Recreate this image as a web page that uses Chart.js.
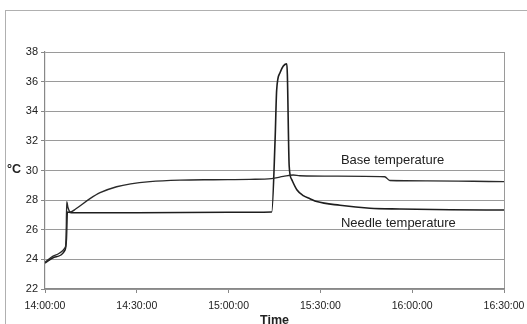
<!DOCTYPE html>
<html>
<head>
<meta charset="utf-8">
<script src="https://cdn.jsdelivr.net/npm/chart.js@4"></script>
<style>
  body { margin: 0; background: #fff; }
  .frame { position: absolute; left: 5px; top: 10px; width: 540px; height: 330px;
           border-left: 1.5px solid #b0b0b0; border-top: 1.5px solid #b0b0b0; }
  canvas { position: absolute; left: 0; top: 0; }
</style>
</head>
<body>
<div class="frame"></div>
<canvas id="chart" width="527" height="324"></canvas>
<script>
// minutes after 14:00:00
const timeLabels = ['14:00:00', '14:30:00', '15:00:00', '15:30:00', '16:00:00', '16:30:00'];

const baseTimes = [0, 3, 6.6, 6.9, 7.1, 7.5, 8.3, 10, 14.7, 18, 23.4, 28, 34.3, 44.1, 55, 67, 74, 77.9, 81.1, 83.3, 95, 111, 112.7, 125, 140, 150];
const baseTemps = [23.8, 24.25, 24.8, 25.3, 27.9, 27.5, 27.2, 27.4, 28.1, 28.5, 28.9, 29.1, 29.25, 29.35, 29.38, 29.4, 29.45, 29.6, 29.7, 29.65, 29.62, 29.58, 29.32, 29.3, 29.27, 29.25];

const needleTimes = [0, 3, 6.5, 7.0, 7.3, 8.5, 30, 60, 74.1, 75.2, 75.7, 76.8, 79.0, 79.2, 79.8, 80.6, 82.3, 84.4, 86.6, 88.8, 96.4, 106.2, 116, 132.4, 150];
const needleTemps = [23.75, 24.15, 24.6, 25.4, 27.2, 27.15, 27.15, 27.18, 27.2, 32.1, 35.4, 36.6, 37.2, 36.5, 30.3, 29.4, 28.7, 28.3, 28.1, 27.9, 27.65, 27.45, 27.4, 27.35, 27.33];

const seriesNames = ['Base temperature', 'Needle temperature'];

const toPoints = (xs, ys) => xs.map((x, i) => ({ x: x, y: ys[i] }));

const seriesLabels = {
  id: 'seriesLabels',
  afterDatasetsDraw(chart) {
    const ctx = chart.ctx;
    const x = chart.scales.x, y = chart.scales.y;
    ctx.save();
    ctx.fillStyle = '#222';
    ctx.font = '13px "Liberation Sans", Arial, sans-serif';
    ctx.textBaseline = 'middle';
    ctx.textAlign = 'left';
    ctx.fillText(seriesNames[0], x.getPixelForValue(96.7), y.getPixelForValue(30.7));
    ctx.fillText(seriesNames[1], x.getPixelForValue(96.7), y.getPixelForValue(26.46));
    // y axis unit, written horizontally next to the 30 tick
    ctx.font = 'bold 12.5px "Liberation Sans", Arial, sans-serif';
    ctx.fillText('°C', 7, y.getPixelForValue(30) - 1);
    ctx.restore();
  }
};

new Chart(document.getElementById('chart'), {
  type: 'line',
  data: {
    datasets: [
      {
        label: seriesNames[0],
        data: toPoints(baseTimes, baseTemps),
        borderColor: '#2a2a2a',
        borderWidth: 1.4,
        pointRadius: 0,
        cubicInterpolationMode: 'monotone'
      },
      {
        label: seriesNames[1],
        data: toPoints(needleTimes, needleTemps),
        borderColor: '#1e1e1e',
        borderWidth: 1.6,
        pointRadius: 0,
        cubicInterpolationMode: 'monotone'
      }
    ]
  },
  options: {
    responsive: false,
    animation: false,
    layout: { padding: { left: 5, top: 52, right: 23, bottom: 0 } },
    plugins: { legend: { display: false }, tooltip: { enabled: false } },
    scales: {
      x: {
        type: 'linear',
        min: 0,
        max: 150,
        afterFit: (scale) => {
          scale.height = 35;
          // let the edge labels overhang into the padding
          scale.paddingLeft = 0;
          scale.paddingRight = 0;
        },
        ticks: {
          stepSize: 30,
          autoSkip: false,
          maxRotation: 0,
          padding: 7,
          color: '#222',
          font: { family: '"Liberation Sans", Arial, sans-serif', size: 10.5 },
          callback: (v) => timeLabels[v / 30]
        },
        grid: {
          drawOnChartArea: true,
          tickLength: 4,
          color: (c) => (c.tick && c.tick.value === 150 ? '#9a9a9a' : 'transparent'),
          tickColor: '#888'
        },
        border: { color: '#888', width: 1.2 },
        title: {
          display: true,
          text: 'Time',
          color: '#222',
          padding: { top: 0, bottom: -4 },
          font: { family: '"Liberation Sans", Arial, sans-serif', size: 12.5, weight: 'bold' }
        }
      },
      y: {
        min: 22,
        max: 38,
        afterFit: (scale) => { scale.width = 40; },
        ticks: {
          stepSize: 2,
          padding: 3,
          color: '#222',
          font: { family: '"Liberation Sans", Arial, sans-serif', size: 11 }
        },
        grid: { color: '#9a9a9a', lineWidth: 1, tickLength: 4, tickColor: '#888' },
        border: { color: '#888', width: 1.2 }
      }
    }
  },
  plugins: [seriesLabels]
});
</script>
</body>
</html>
